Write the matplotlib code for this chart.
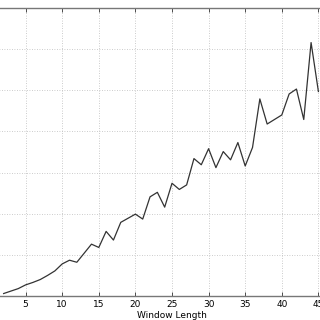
import matplotlib
matplotlib.use("Agg")
from matplotlib import pyplot as plt

# window length vs. value
window_len = [2, 3, 4, 5, 6, 7, 8, 9, 10, 11, 12, 13, 14, 15, 16, 17, 18, 19, 20,
              21, 22, 23, 24, 25, 26, 27, 28, 29, 30, 31, 32, 33, 34, 35, 36, 37,
              38, 39, 40, 41, 42, 43, 44, 45]
values = [0.06, 0.12, 0.18, 0.27, 0.33, 0.40, 0.50, 0.61, 0.78, 0.87, 0.82, 1.04,
          1.26, 1.18, 1.57, 1.36, 1.79, 1.89, 1.99, 1.87, 2.41, 2.52, 2.16, 2.74,
          2.59, 2.70, 3.34, 3.19, 3.58, 3.12, 3.51, 3.31, 3.73, 3.16, 3.61, 4.79,
          4.18, 4.29, 4.40, 4.91, 5.03, 4.29, 6.16, 4.97]
x_ticks = [0, 5, 10, 15, 20, 25, 30, 35, 40, 45, 50]
x_labels = ["", "5", "10", "15", "20", "25", "30", "35", "40", "45", ""]
y_ticks = [0, 1, 2, 3, 4, 5, 6, 7]

fig = plt.figure(figsize=(3.2, 3.2), dpi=100)
# axes runs past the left/right edges like the cropped original
ax = fig.add_axes([-11 / 320, 24 / 320, 366 / 320, 288 / 320])

ax.plot(window_len, values, color="#333333", linewidth=0.9)

ax.set_xlim(0, 50)
ax.set_ylim(0, 7)
ax.set_xticks(x_ticks)
ax.set_xticklabels(x_labels)
ax.set_yticks(y_ticks)
ax.set_yticklabels([])
ax.grid(True, linestyle=(0, (1, 2)), color="#bbbbbb", linewidth=0.6)
ax.tick_params(direction="in", top=True, right=True, length=3, width=0.6,
               labelsize=6.5, pad=3, colors="#333333")
ax.tick_params(axis="x", labelcolor="black")
for s in ax.spines.values():
    s.set_color("#777777")
    s.set_linewidth(1.0)

ax.set_xlabel("Window Length", fontsize=6.5, labelpad=1)

fig.savefig("out.png", dpi=100)
